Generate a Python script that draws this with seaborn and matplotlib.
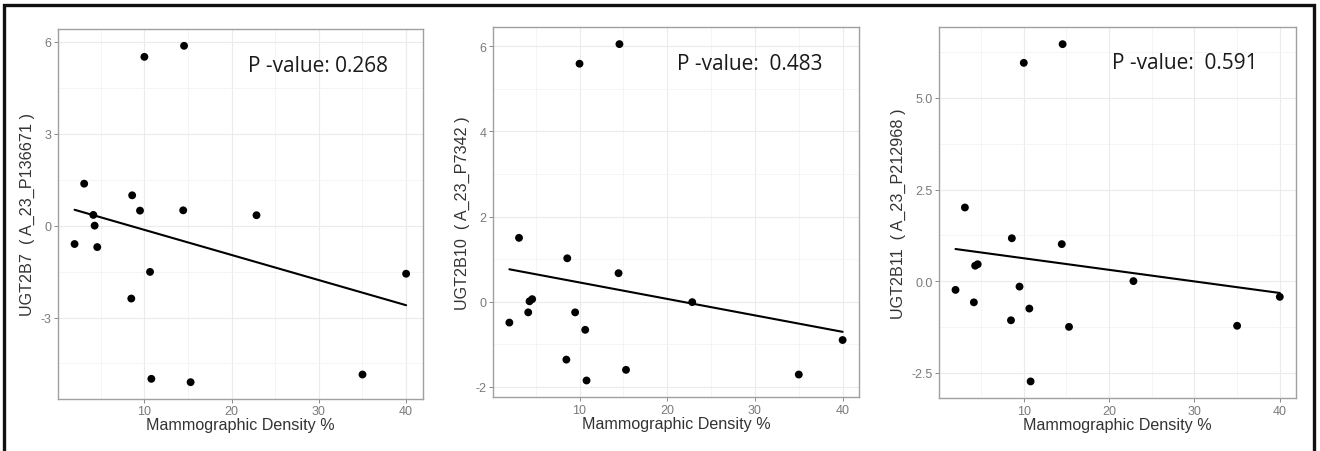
import numpy as np
import pandas as pd
import matplotlib
matplotlib.use("Agg")
import matplotlib.pyplot as plt
import seaborn as sns
from matplotlib.ticker import MultipleLocator
from matplotlib.patches import Rectangle

# ---- data ----
density = [2.0, 3.1, 4.15, 4.3, 4.6, 8.6, 8.5, 9.5, 10.0, 10.65, 10.8,
           14.45, 14.55, 15.3, 22.85, 35.0, 40.0]
ugt2b7 = [-0.60, 1.37, 0.35, 0.00, -0.70, 0.99, -2.38, 0.49, 5.51, -1.51, -5.00,
          0.50, 5.87, -5.11, 0.34, -4.86, -1.57]
ugt2b10 = [-0.49, 1.50, -0.25, 0.01, 0.06, 1.02, -1.36, -0.25, 5.59, -0.66, -1.85,
           0.67, 6.05, -1.60, -0.01, -1.71, -0.90]
ugt2b11 = [-0.24, 2.01, -0.58, 0.42, 0.46, 1.17, -1.07, -0.15, 5.96, -0.75, -2.74,
           1.01, 6.47, -1.25, 0.00, -1.22, -0.43]

ylabels = ["UGT2B7  ( A_23_P136671 )", "UGT2B10  ( A_23_P7342 )", "UGT2B11  ( A_23_P212968 )"]
pvalues = ["P -value: 0.268", "P -value:  0.483", "P -value:  0.591"]
xlabel = "Mammographic Density %"
xticks = [10, 20, 30, 40]
yticks_list = [[-3, 0, 3, 6], [-2, 0, 2, 4, 6], [-2.5, 0.0, 2.5, 5.0]]
yticklabels_list = [["-3", "0", "3", "6"], ["-2", "0", "2", "4", "6"], ["-2.5", "0.0", "2.5", "5.0"]]

sns.set_theme(style="white")
plt.rcParams['font.family'] = ['Liberation Sans', 'DejaVu Sans']

W, H = 1320, 452
fig = plt.figure(figsize=(W / 100, H / 100), dpi=100)

# axes boxes in pixels: left, right, top, bottom
boxes = [(58, 422.7, 30, 400), (492.7, 859.3, 28.3, 398.3), (939.3, 1296, 28.3, 399.3)]
text_pos = [(0.521, 0.90), (0.502, 0.9035), (0.485, 0.904)]
series = [ugt2b7, ugt2b10, ugt2b11]
minor_y = [1.5, 1.0, 1.25]

for i in range(3):
    l, r, t, b = boxes[i]
    ax = fig.add_axes([l / W, (H - b) / H, (r - l) / W, (b - t) / H])
    df = pd.DataFrame({"x": density, "y": series[i]})
    sns.regplot(data=df, x="x", y="y", ax=ax, ci=None, truncate=True,
                scatter_kws=dict(s=32, color="black", alpha=1, edgecolor="none", zorder=3),
                line_kws=dict(color="black", lw=1.5, zorder=4))
    xr = max(density) - min(density)
    ax.set_xlim(min(density) - 0.05 * xr, max(density) + 0.05 * xr)
    yv = series[i]
    yr = max(yv) - min(yv)
    ax.set_ylim(min(yv) - 0.05 * yr, max(yv) + 0.05 * yr)

    ax.set_xticks(xticks)
    ax.set_xticklabels([str(v) for v in xticks])
    ax.set_yticks(yticks_list[i])
    ax.set_yticklabels(yticklabels_list[i])
    ax.xaxis.set_minor_locator(MultipleLocator(5))
    ax.yaxis.set_minor_locator(MultipleLocator(minor_y[i]))
    ax.grid(True, which="major", color="#EBEBEB", lw=0.8)
    ax.grid(True, which="minor", color="#F2F2F2", lw=0.5)
    ax.set_axisbelow(True)
    ax.tick_params(axis="both", which="major", length=3, width=0.7, color="#888888",
                   labelsize=9, labelcolor="#7A7A7A", pad=1.5, left=True, bottom=True)
    ax.tick_params(axis="both", which="minor", length=0)
    for s in ax.spines.values():
        s.set_color("#A0A0A0")
        s.set_linewidth(1.0)
    ax.set_xlabel(xlabel, fontsize=11.6, color="#333333", labelpad=0)
    ax.set_ylabel(ylabels[i], fontsize=11.6, color="#333333", labelpad=4)
    ax.text(text_pos[i][0], text_pos[i][1], pvalues[i], transform=ax.transAxes,
            fontsize=15, family=["Open Sans", "DejaVu Sans"], color="#1a1a1a",
            ha="left", va="center")

# outer frame
frame = Rectangle((4 / W, -0.05), (1314 - 4) / W, (H - 6) / H + 0.05, transform=fig.transFigure,
                  fill=False, edgecolor="#111111", lw=2.4)
fig.patches.append(frame)

fig.savefig("out.png", dpi=100, facecolor="white")
